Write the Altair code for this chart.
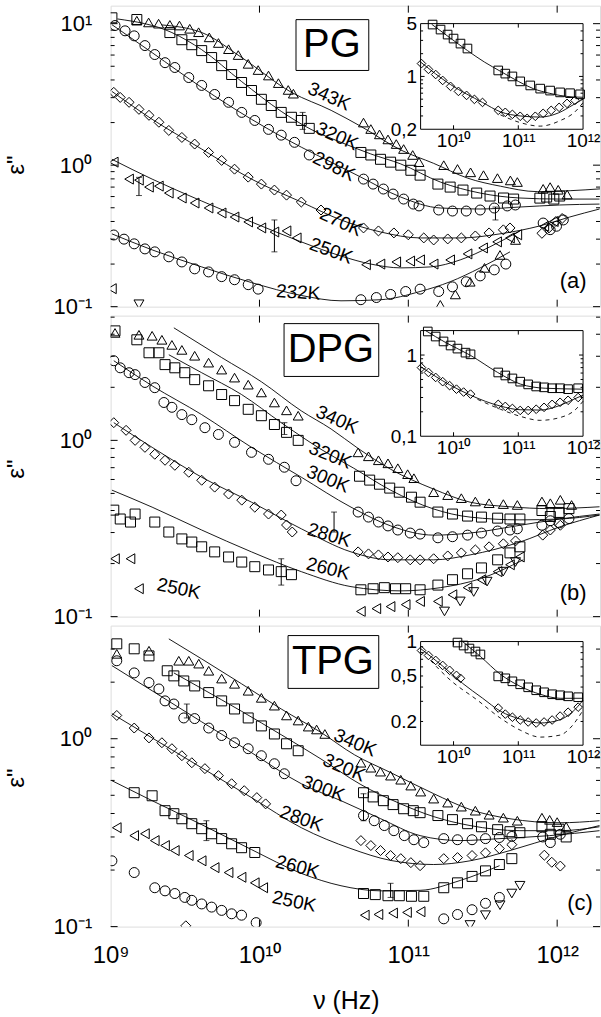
import altair as alt
import pandas as pd

FONT = "Liberation Sans"
W, H = 491, 302
XDOM = [1e9, 1.94e12]
IX_DOM = [3.1e9, 1e12]
IX_RANGE = [311, 474]

# ============ Panel (a) PG  (frequencies in GHz) ============
pg_343_nu = [1.5, 1.8, 2.1, 2.5, 2.9, 3.4, 3.9, 4.6, 5.3, 6.2, 7.2, 8.4, 9.8, 11.5, 13.4, 15.6, 16.9,
             50, 56, 64, 73, 83, 93, 107, 118, 173, 214, 262, 320, 397, 485, 540, 805, 897, 1016, 1167]
pg_343_eps = [10.5, 10.2, 10.0, 9.8, 9.7, 9.2, 8.7, 8.0, 7.3, 6.6, 6.0, 5.2, 4.7, 4.3, 3.8, 3.4, 3.2,
              2.0, 1.8, 1.65, 1.52, 1.41, 1.30, 1.18, 1.05, 1.0, 0.94, 0.89, 0.85, 0.81, 0.78, 0.76,
              0.68, 0.70, 0.67, 0.62]
pg_343_fit_nu = [2.2, 4.1, 7.6, 16.4, 30.3, 48, 89, 148, 250, 416, 735, 1222, 1940]
pg_343_fit_eps = [9.8, 8.65, 5.76, 3.27, 2.44, 1.88, 1.28, 1.03, 0.81, 0.71, 0.65, 0.66, 0.68]

pg_320_nu = [1.02, 1.50, 2.50, 3.01, 3.51, 4.09, 4.77, 5.57, 6.50, 7.58, 8.84, 10.3, 12.0, 14.0, 16.4, 19.1, 21.6,
             48, 56, 65, 76, 89, 104, 120, 158, 191, 233, 288, 354, 436, 510, 765, 850, 950, 1040]
pg_320_eps = [11.0, 10.7, 8.65, 7.7, 7.1, 6.45, 5.76, 5.05, 4.37, 3.84, 3.37, 2.92, 2.64, 2.36, 2.18, 2.07, 1.82,
              1.23, 1.18, 1.10, 1.05, 1.0, 0.92, 0.85, 0.735, 0.70, 0.667, 0.635, 0.605, 0.586, 0.576,
              0.585, 0.595, 0.576, 0.605]
pg_320_fit_nu = [1.11, 2.58, 4.09, 7.58, 14.0, 22.2, 35.3, 56, 89, 164, 304, 562, 1040, 1925]
pg_320_fit_eps = [10.8, 8.65, 6.55, 3.9, 2.40, 1.79, 1.45, 1.20, 1.02, 0.76, 0.635, 0.586, 0.576, 0.576]

pg_298_nu = [1.07, 1.25, 1.44, 1.70, 1.98, 2.32, 2.70, 3.35, 4.09, 5.0, 6.2, 7.6, 9.3, 11.5, 14.0, 17.2, 21.6,
             50, 58, 68, 79, 93, 108, 118, 160, 198, 245, 304, 378, 462, 524, 805, 897, 990, 1100]
pg_298_eps = [9.7, 8.9, 8.2, 7.0, 6.05, 5.3, 4.9, 4.16, 3.66, 3.16, 2.78, 2.36, 2.07, 1.79, 1.63, 1.45, 1.18,
              0.797, 0.735, 0.678, 0.625, 0.576, 0.531, 0.515, 0.482, 0.474, 0.474, 0.482, 0.498, 0.515, 0.523,
              0.39, 0.35, 0.37, 0.41]
pg_298_fit_nu = [1.02, 1.90, 4.09, 8.84, 19.1, 30.3, 48, 89, 164, 304, 562, 1040, 1925]
pg_298_fit_eps = [9.84, 6.24, 3.54, 2.11, 1.34, 1.05, 0.823, 0.595, 0.498, 0.49, 0.506, 0.523, 0.531]

pg_270_nu = [1.05, 1.16, 1.33, 1.55, 1.81, 2.11, 2.46, 3.01, 3.67, 4.55, 5.57, 6.8, 8.4, 10.3, 12.6, 15.2, 19.1, 25.9,
             50, 63, 80, 100, 127, 148, 184, 227, 282, 349, 435, 482, 790, 880, 980, 1080]
pg_270_eps = [3.27, 3.01, 2.78, 2.48, 2.25, 2.01, 1.76, 1.57, 1.41, 1.23, 1.08, 0.937, 0.823, 0.735, 0.667, 0.614,
              0.549, 0.482, 0.36, 0.343, 0.332, 0.322, 0.306, 0.296, 0.301, 0.306, 0.316, 0.332, 0.349, 0.36,
              0.33, 0.36, 0.40, 0.42]
pg_270_fit_nu = [1.02, 1.90, 4.09, 8.84, 19.1, 35.3, 65.3, 120, 223, 413, 765, 1214, 1925]
pg_270_fit_eps = [3.32, 2.11, 1.30, 0.797, 0.549, 0.41, 0.337, 0.306, 0.306, 0.327, 0.372, 0.43, 0.49]

pg_250_nu = [1.05, 1.33, 1.55, 1.81, 2.11, 2.46, 3.01, 3.67, 4.55, 5.57, 6.8, 8.4, 10.3, 12.6, 15.2, 17.8,
             52, 65, 83, 103, 120, 148, 191, 250, 318, 395, 482, 540, 820, 950]
pg_250_eps = [1.05, 0.797, 0.784, 0.70, 0.711, 0.635, 0.586, 0.54, 0.498, 0.459, 0.43, 0.397, 0.36, 0.337, 0.343,
              0.306, 0.198, 0.20, 0.207, 0.21, 0.214, 0.20, 0.214, 0.236, 0.26, 0.287, 0.306, 0.322, 0.37, 0.40]
pg_250_fit_nu = [1.02, 1.90, 4.09, 8.84, 19.1, 35.3, 56, 89, 141, 223, 354, 562]
pg_250_fit_eps = [1.10, 0.797, 0.558, 0.397, 0.287, 0.228, 0.20, 0.188, 0.191, 0.214, 0.265, 0.343]

pg_232_nu = [1.05, 1.23, 1.44, 1.70, 1.98, 2.46, 3.01, 3.67, 4.55, 5.57, 6.8, 8.4, 9.8,
             48, 61, 76, 96, 120, 160, 198, 245, 304, 378, 452]
pg_232_eps = [0.321, 0.30, 0.278, 0.256, 0.244, 0.225, 0.207, 0.185, 0.176, 0.163, 0.155, 0.143, 0.133,
              0.112, 0.116, 0.122, 0.128, 0.133, 0.128, 0.138, 0.150, 0.165, 0.182, 0.20]
pg_232_fit_nu = [1.02, 1.90, 4.09, 8.84, 19.1, 35.3, 65.3, 120, 191, 304, 482]
pg_232_fit_eps = [0.327, 0.252, 0.191, 0.148, 0.12, 0.11, 0.112, 0.128, 0.15, 0.188, 0.244]

pg_low_nu = [164, 207, 260, 325, 413, 525]
pg_low_eps = [0.103, 0.122, 0.150, 0.188, 0.232, 0.296]
pg_left_nu, pg_left_eps = [1.02], [0.134]
pg_down_nu, pg_down_eps = [1.55], [0.104]

pg_err_nu = [1.55, 12.6, 19.5, 385]
pg_err_lo = [0.61, 0.244, 1.79, 0.41]
pg_err_hi = [0.82, 0.41, 2.36, 0.506]

pg_lab_text = ["343K", "320K", "298K", "270K", "250K", "232K"]
pg_lab_nu = [29.4, 33.2, 31.7, 35.3, 30.3, 18.2]
pg_lab_eps = [3.06, 1.60, 0.98, 0.397, 0.248, 0.126]
pg_lab_angle = [24, 24, 26, 25, 20, 4]

pg_in_sq_nu = [4.75, 6.3, 8.1, 10, 12.8, 16.4, 49, 63, 81, 107, 153, 218, 310, 442, 630, 900]
pg_in_sq_eps = [4.86, 4.17, 3.58, 3.17, 2.72, 2.34, 1.20, 1.09, 1.0, 0.86, 0.76, 0.69, 0.65, 0.615, 0.60, 0.58]
pg_in_sq_fit_nu = [4.6, 9, 16.4, 30, 53, 100, 170, 300, 442, 700, 1000]
pg_in_sq_fit_eps = [4.9, 3.2, 2.2, 1.55, 1.17, 0.86, 0.69, 0.6, 0.56, 0.535, 0.53]
pg_in_dia_nu = [3.2, 4.1, 5.3, 6.8, 9.0, 11.9, 15.9, 21, 28, 49, 63, 81, 107, 137, 183, 242, 322, 427, 566, 750]
pg_in_dia_eps = [1.48, 1.24, 1.06, 0.885, 0.738, 0.634, 0.561, 0.497, 0.453, 0.356, 0.335, 0.315, 0.297, 0.279,
                 0.297, 0.325, 0.356, 0.39, 0.44, 0.482]
pg_in_dia_fit_nu = [3.1, 9, 28, 53, 107, 218, 420, 700, 1000]
pg_in_dia_fit_eps = [1.55, 0.78, 0.453, 0.34, 0.30, 0.29, 0.33, 0.42, 0.50]
pg_in_dash_nu = [53, 107, 218, 442, 750, 1000]
pg_in_dash_eps = [0.31, 0.245, 0.22, 0.26, 0.34, 0.45]

# ============ Panel (b) DPG ============
dpg_340_nu = [1.07, 1.55, 1.90, 2.21, 2.58, 3.01, 3.67, 4.55, 5.57, 6.8, 8.4, 10.3, 12.6, 15.2, 18.2,
              46, 54, 63, 73, 85, 99, 109, 148, 184, 227, 282, 349, 435, 540, 790, 900, 1050, 1250]
dpg_340_eps = [4.07, 3.97, 3.92, 3.72, 3.48, 3.26, 3.02, 2.76, 2.52, 2.27, 2.07, 1.87, 1.64, 1.48, 1.38,
               0.855, 0.812, 0.771, 0.741, 0.695, 0.643, 0.61, 0.508, 0.489, 0.47, 0.45, 0.44, 0.435, 0.43,
               0.45, 0.44, 0.46, 0.43]
dpg_340_fit_nu = [2.66, 5.57, 10.3, 19.1, 30.3, 46, 76, 148, 260, 482, 892, 1925]
dpg_340_fit_eps = [4.35, 2.95, 2.15, 1.47, 1.16, 0.90, 0.686, 0.529, 0.446, 0.42, 0.41, 0.42]

dpg_320_nu = [1.07, 1.50, 1.81, 2.11, 2.32, 2.70, 3.15, 3.67, 4.55, 5.57, 6.8, 8.4, 10.3, 12.6, 15.2, 18.2,
              47, 55, 64, 75, 87, 105, 120, 158, 198, 250, 310, 398, 482, 562, 790, 900, 1030, 1200]
dpg_320_eps = [4.18, 3.72, 3.14, 3.14, 2.69, 2.58, 2.42, 2.21, 2.04, 1.82, 1.68, 1.50, 1.38, 1.23, 1.11, 1.0,
               0.626, 0.595, 0.564, 0.536, 0.508, 0.476, 0.446, 0.392, 0.382, 0.372, 0.367, 0.362, 0.358, 0.358,
               0.40, 0.37, 0.39, 0.41]
dpg_320_fit_nu = [2.46, 4.09, 7.58, 14.0, 25.9, 43, 76, 148, 260, 562, 1040, 1925]
dpg_320_fit_eps = [3.06, 2.42, 1.82, 1.26, 0.89, 0.695, 0.522, 0.408, 0.367, 0.354, 0.358, 0.377]

dpg_300_nu = [1.05, 1.16, 1.33, 1.46, 1.70, 1.98, 2.28, 2.58, 3.01, 3.51, 4.30, 5.3, 6.8, 8.84, 11.5, 14.7, 17.6,
              46, 54, 63, 73, 85, 103, 120, 158, 198, 250, 310, 398, 482, 540, 790, 900, 1030, 1200]
dpg_300_eps = [2.83, 2.58, 2.42, 2.36, 2.13, 1.99, 1.64, 1.54, 1.40, 1.31, 1.18, 1.08, 0.974, 0.855, 0.781, 0.704,
               0.59, 0.392, 0.367, 0.344, 0.327, 0.31, 0.298, 0.294, 0.28, 0.284, 0.29, 0.298, 0.306, 0.31,
               0.315, 0.33, 0.35, 0.34, 0.36]
dpg_300_fit_nu = [1.05, 1.90, 4.09, 8.84, 19.1, 41.2, 76.2, 148, 260, 530, 1040, 1925]
dpg_300_fit_eps = [2.83, 2.04, 1.40, 0.913, 0.618, 0.418, 0.327, 0.29, 0.298, 0.327, 0.358, 0.382]

dpg_280_nu = [1.05, 1.27, 1.46, 1.70, 1.98, 2.32, 2.70, 3.35, 4.09, 5.0, 6.2, 7.6, 9.3, 11.5, 14.0, 15.2, 16.6,
              46, 54, 63, 73, 85, 103, 120, 148, 184, 227, 282, 349, 435, 525, 800, 900, 1050]
dpg_280_eps = [1.26, 1.14, 1.0, 0.913, 0.834, 0.771, 0.722, 0.659, 0.594, 0.543, 0.496, 0.458, 0.418, 0.382,
               0.377, 0.331, 0.302, 0.233, 0.227, 0.224, 0.218, 0.216, 0.21, 0.21, 0.213, 0.221, 0.23, 0.239,
               0.249, 0.259, 0.269, 0.29, 0.31, 0.33]
dpg_280_fit_nu = [1.05, 1.90, 4.09, 8.84, 19.1, 41.2, 76.2, 148, 260, 562, 1040, 1925]
dpg_280_fit_eps = [1.26, 0.913, 0.618, 0.446, 0.315, 0.233, 0.21, 0.21, 0.224, 0.265, 0.323, 0.377]

dpg_260_nu = [1.05, 1.16, 1.36, 1.46, 1.98, 2.46, 3.01, 3.51, 4.09, 5.0, 6.2, 7.6, 9.3, 11.5, 14.0, 16.4,
              48, 58, 69, 82, 96, 120, 158, 198, 250, 310, 398, 482, 562]
dpg_260_eps = [0.402, 0.358, 0.344, 0.382, 0.344, 0.302, 0.276, 0.265, 0.249, 0.233, 0.218, 0.204, 0.192, 0.184,
               0.18, 0.173, 0.142, 0.144, 0.146, 0.144, 0.144, 0.142, 0.151, 0.162, 0.175, 0.189, 0.21, 0.23, 0.249]
dpg_260_fit_nu = [1.02, 1.90, 4.09, 8.84, 19.1, 41.2, 89, 164, 304, 592]
dpg_260_fit_eps = [0.522, 0.418, 0.31, 0.233, 0.18, 0.148, 0.14, 0.146, 0.164, 0.21]

dpg_250_nu = [1.07, 1.36, 1.55, 48, 61, 76, 96, 120, 158, 198, 250, 310, 398, 482, 562]
dpg_250_eps = [0.213, 0.213, 0.144, 0.107, 0.111, 0.114, 0.117, 0.122, 0.122, 0.133, 0.146, 0.162, 0.18, 0.197, 0.218]

dpg_low_nu = [175, 223, 275, 338, 434, 525]
dpg_low_eps = [0.107, 0.122, 0.138, 0.158, 0.18, 0.204]

dpg_err_nu = [14.7, 14.0, 31.7]
dpg_err_lo = [1.08, 0.151, 0.302]
dpg_err_hi = [1.26, 0.213, 0.392]

dpg_lab_text = ["340K", "320K", "300K", "280K", "260K", "250K"]
dpg_lab_nu = [33.2, 29.9, 28.9, 29.4, 28.9, 2.87]
dpg_lab_eps = [1.31, 0.823, 0.603, 0.29, 0.187, 0.144]
dpg_lab_angle = [24, 22, 22, 17, 14, 12]

dpg_in_sq_nu = [4.0, 5.3, 7.0, 9.0, 11.5, 15.3, 18.3, 49, 63, 81, 107, 142, 189, 250, 333, 442, 587, 840]
dpg_in_sq_eps = [1.95, 1.69, 1.47, 1.31, 1.20, 1.07, 1.02, 0.61, 0.56, 0.515, 0.47, 0.435, 0.41, 0.40, 0.39,
                 0.39, 0.38, 0.39]
dpg_in_sq_fit_nu = [3.7, 7.5, 18.3, 48, 107, 260, 1000]
dpg_in_sq_fit_eps = [2.0, 1.43, 0.99, 0.61, 0.44, 0.39, 0.38]
dpg_in_dia_nu = [3.2, 4.1, 5.3, 6.8, 8.7, 11.1, 14.3, 18.3, 49, 63, 81, 107, 142, 189, 250, 333, 442, 587, 840]
dpg_in_dia_eps = [0.70, 0.61, 0.53, 0.47, 0.42, 0.38, 0.35, 0.33, 0.247, 0.233, 0.22, 0.208, 0.208, 0.215,
                  0.227, 0.247, 0.262, 0.277, 0.30]
dpg_in_dia_fit_nu = [3.1, 8.7, 18.3, 53, 107, 218, 442, 750, 1000]
dpg_in_dia_fit_eps = [0.72, 0.43, 0.32, 0.235, 0.212, 0.21, 0.24, 0.29, 0.32]
dpg_in_dash_nu = [23.4, 53, 107, 218, 442, 750, 1000]
dpg_in_dash_eps = [0.285, 0.215, 0.176, 0.157, 0.17, 0.21, 0.27]

# ============ Panel (c) TPG ============
tpg_340_nu = [1.10, 1.81, 2.87, 3.35, 3.91, 4.56, 5.57, 6.8, 8.4, 10.3, 12.6, 15.2, 18.2, 21.3, 24.2, 27.5,
              48, 56, 65, 76, 89, 104, 121, 148, 184, 227, 282, 349, 435, 540, 790, 890, 1000, 1150]
tpg_340_eps = [2.83, 2.94, 2.60, 2.60, 2.51, 2.30, 2.09, 1.96, 1.80, 1.65, 1.50, 1.33, 1.25, 1.16, 1.12, 1.06,
               0.745, 0.701, 0.668, 0.636, 0.605, 0.563, 0.523, 0.48, 0.457, 0.435, 0.414, 0.394, 0.38, 0.366,
               0.38, 0.37, 0.36, 0.34]
tpg_340_fit_nu = [2.46, 4.09, 7.58, 14.0, 25.9, 43.6, 76.2, 148, 260, 482, 1040, 1925]
tpg_340_fit_eps = [3.40, 2.66, 1.96, 1.44, 1.08, 0.82, 0.66, 0.51, 0.42, 0.375, 0.357, 0.366]

tpg_320_nu = [1.10, 1.44, 1.81, 2.40, 2.66, 3.1, 3.67, 4.56, 5.57, 6.8, 8.4, 10.3, 12.6, 15.2, 18.2,
              50, 58, 68, 79, 93, 108, 120, 158, 198, 250, 310, 398, 482, 562, 790, 900, 1030, 1150]
tpg_320_eps = [3.20, 3.01, 2.76, 2.30, 2.16, 2.03, 1.91, 1.76, 1.59, 1.44, 1.29, 1.17, 1.06, 0.94, 0.863,
               0.516, 0.49, 0.468, 0.446, 0.424, 0.414, 0.404, 0.39, 0.371, 0.353, 0.34, 0.328, 0.32, 0.316,
               0.34, 0.31, 0.33, 0.30]
tpg_320_fit_nu = [2.66, 4.09, 7.58, 14.0, 25.9, 48, 88.9, 148, 260, 562, 1040, 1925]
tpg_320_fit_eps = [2.24, 1.85, 1.40, 1.05, 0.78, 0.57, 0.45, 0.385, 0.345, 0.324, 0.324, 0.34]

tpg_300_nu = [1.10, 1.44, 1.81, 2.11, 2.32, 2.66, 3.1, 3.67, 4.56, 5.57, 6.8, 8.4, 10.3, 12.6, 14.7,
              50, 59, 69, 80, 94, 109, 127, 173, 214, 268, 330, 409, 496, 800, 900, 1050]
tpg_300_eps = [2.60, 2.24, 1.99, 1.84, 1.59, 1.53, 1.29, 1.28, 1.14, 1.04, 0.952, 0.885, 0.812, 0.736, 0.651,
               0.39, 0.366, 0.345, 0.324, 0.305, 0.29, 0.28, 0.294, 0.29, 0.29, 0.294, 0.298, 0.302,
               0.30, 0.28, 0.31]
tpg_300_fit_nu = [1.02, 1.90, 4.09, 8.84, 19.1, 35.3, 65.3, 120, 223, 413, 892, 1925]
tpg_300_fit_eps = [2.45, 1.80, 1.23, 0.843, 0.576, 0.468, 0.375, 0.305, 0.287, 0.294, 0.305, 0.324]

tpg_280_nu = [1.10, 1.44, 1.81, 2.21, 2.58, 3.01, 3.51, 4.30, 5.3, 6.5, 7.9, 9.6, 11.0,
              48, 56, 65, 76, 89, 104, 120, 173, 214, 268, 330, 409, 496, 820, 920, 1050]
tpg_280_eps = [1.33, 1.14, 1.01, 0.952, 0.885, 0.812, 0.745, 0.693, 0.636, 0.576, 0.529, 0.486, 0.45,
               0.287, 0.27, 0.254, 0.239, 0.23, 0.219, 0.211, 0.23, 0.233, 0.239, 0.247, 0.26, 0.273,
               0.24, 0.22, 0.21]
tpg_280_fit_nu = [1.02, 1.90, 4.09, 8.84, 19.1, 41.2, 76.2, 148, 260, 482, 1040, 1925]
tpg_280_fit_eps = [1.36, 1.01, 0.70, 0.486, 0.336, 0.26, 0.225, 0.214, 0.224, 0.254, 0.305, 0.345]

tpg_260_nu = [1.44, 1.90, 2.32, 2.66, 3.01, 3.51, 4.09, 4.77, 5.57, 6.5, 7.58, 9.3,
              50, 60, 73, 87, 105, 127, 173, 214, 268, 330, 409, 496]
tpg_260_eps = [0.516, 0.497, 0.414, 0.399, 0.375, 0.353, 0.332, 0.312, 0.294, 0.276, 0.263, 0.248,
               0.15, 0.148, 0.146, 0.146, 0.145, 0.145, 0.161, 0.171, 0.185, 0.198, 0.214, 0.23]
tpg_260_fit_nu = [1.02, 1.90, 4.09, 8.84, 19.1, 35.3, 65.3, 120, 223, 410]
tpg_260_fit_eps = [0.598, 0.468, 0.349, 0.257, 0.192, 0.165, 0.155, 0.156, 0.176, 0.211]

tpg_250_nu = [1.10, 1.44, 1.70, 1.98, 2.32, 2.70, 3.35, 4.09, 5.0, 6.2, 7.58, 9.3, 10.6, 51, 63, 79, 98, 121]
tpg_250_eps = [0.336, 0.305, 0.312, 0.287, 0.27, 0.254, 0.239, 0.224, 0.206, 0.194, 0.183, 0.171, 0.161,
               0.115, 0.116, 0.118, 0.119, 0.12]

tpg_low_nu = [1.02, 1.44, 1.98, 2.32, 2.70, 3.15, 3.51, 4.09, 4.77, 5.57, 6.5, 7.58, 9.5, 173, 214, 268, 330, 409]
tpg_low_eps = [0.224, 0.194, 0.161, 0.155, 0.15, 0.143, 0.138, 0.132, 0.127, 0.122, 0.117, 0.115, 0.105,
               0.11, 0.116, 0.123, 0.133, 0.143]
tpg_down_nu = [260, 330, 413, 496, 562]
tpg_down_eps = [0.102, 0.115, 0.13, 0.15, 0.165]
tpg_dia_nu, tpg_dia_eps = [3.2], [0.101]

tpg_err_nu = [3.25, 4.4, 50, 76]
tpg_err_lo = [1.29, 0.287, 0.366, 0.143]
tpg_err_hi = [1.53, 0.366, 0.51, 0.17]

tpg_lab_text = ["340K", "320K", "300K", "280K", "260K", "250K"]
tpg_lab_nu = [43.9, 37.0, 26.8, 19.1, 18.0, 17.1]
tpg_lab_eps = [0.95, 0.701, 0.542, 0.375, 0.208, 0.136]
tpg_lab_angle = [23, 23, 20, 20, 15, 12]

tpg_in_sq_nu = [11.5, 14.3, 17.6, 21.8, 26, 49, 63, 81, 107, 142, 189, 250, 333, 442, 587, 840]
tpg_in_sq_eps = [0.98, 0.923, 0.869, 0.818, 0.771, 0.496, 0.477, 0.449, 0.423, 0.398, 0.375, 0.36, 0.346,
                 0.339, 0.332, 0.326]
tpg_in_sq_fit_nu = [13.8, 26, 53, 107, 218, 442, 1000]
tpg_in_sq_fit_eps = [1.0, 0.741, 0.517, 0.406, 0.346, 0.319, 0.319]
tpg_in_dia_nu = [3.2, 4.1, 5.3, 6.8, 8.7, 11.1, 12.8, 49, 63, 81, 107, 142, 189, 250, 333, 442, 587, 840]
tpg_in_dia_eps = [0.835, 0.756, 0.684, 0.618, 0.56, 0.506, 0.477, 0.262, 0.232, 0.218, 0.206, 0.198, 0.194,
                  0.198, 0.206, 0.223, 0.241, 0.267]
tpg_in_dia_fit_nu = [3.1, 6.8, 13.8, 28, 53, 107, 218, 420, 700, 1000]
tpg_in_dia_fit_eps = [0.869, 0.61, 0.431, 0.32, 0.246, 0.21, 0.194, 0.205, 0.245, 0.307]
tpg_in_dash_nu = [4.4, 9.0, 23.4, 53, 107, 218, 442, 630, 1000]
tpg_in_dash_eps = [0.684, 0.458, 0.307, 0.214, 0.168, 0.146, 0.152, 0.175, 0.251]

# ============ helpers ============
XLAB = "datum.value < 5e9 ? '10⁹' : datum.value < 5e10 ? '10¹⁰' : datum.value < 5e11 ? '10¹¹' : '10¹²'"
YLAB = "datum.value > 5 ? '10¹' : datum.value > 0.5 ? '10⁰' : '10⁻¹'"


def one():
    return pd.DataFrame({"d": [0]})


def pts(series):
    rows = []
    for nu, eps, shp in series:
        rows += [{"nu": n * 1e9, "eps": e, "shape": shp} for n, e in zip(nu, eps)]
    return pd.DataFrame(rows)


def curves(fits):
    rows = []
    for i, (nu, eps) in enumerate(fits):
        rows += [{"nu": n * 1e9, "eps": e, "id": i} for n, e in zip(nu, eps)]
    return pd.DataFrame(rows)


def yrules(vals, Yf, x0, x1):
    return alt.Chart(pd.DataFrame({"v": vals})).mark_rule(color="black", strokeWidth=1).encode(
        y=Yf("v"), x=alt.value(x0), x2=alt.value(x1))


def xrules(vals, Xf, y0, y1):
    return alt.Chart(pd.DataFrame({"v": vals})).mark_rule(color="black", strokeWidth=1).encode(
        x=Xf("v"), y=alt.value(y0), y2=alt.value(y1))


def make_panel(p):
    xs = alt.Scale(type="log", domain=XDOM)
    ys = alt.Scale(type="log", domain=p["ydom"])
    if p["show_x"]:
        xax = alt.Axis(values=[1e9, 1e10, 1e11, 1e12], labelExpr=XLAB, ticks=False, tickSize=0,
                       domain=False, grid=False, labelFont=FONT, labelFontSize=24, labelPadding=29,
                       labelBaseline="middle", labelFlush=False, labelOverlap=False, labelColor="black",
                       title="ν (Hz)", titleFont=FONT, titleFontSize=25, titleFontWeight="normal",
                       titleX=236, titleY=74, titleBaseline="middle", titleAlign="center", titleColor="black")
    else:
        xax = None
    yax = alt.Axis(values=p["ymajor"], labelExpr=YLAB, ticks=False, tickSize=0, domain=False, grid=False,
                   title=None, labelFont=FONT, labelFontSize=22, labelPadding=19, labelOverlap=False,
                   labelColor="black")

    def X(f):
        return alt.X(f, type="quantitative", scale=xs, axis=xax)

    def Y(f):
        return alt.Y(f, type="quantitative", scale=ys, axis=yax)

    L = []
    L.append(alt.Chart(curves(p["fits"])).mark_line(color="black", strokeWidth=0.9, interpolate="monotone",
                                                    clip=True).encode(x=X("nu"), y=Y("eps"), detail="id:N"))
    L.append(alt.Chart(pts(p["series"])).mark_point(filled=False, color="black", size=100, strokeWidth=1,
                                                    opacity=1, clip=True).encode(
        x=X("nu"), y=Y("eps"), shape=alt.Shape("shape:N", scale=None)))
    err = pd.DataFrame({"nu": [v * 1e9 for v in p["err"][0]], "lo": p["err"][1], "hi": p["err"][2]})
    L.append(alt.Chart(err).mark_rule(color="black", strokeWidth=1).encode(x=X("nu"), y=Y("lo"), y2=alt.Y2("hi")))
    for col in ("lo", "hi"):
        L.append(alt.Chart(err).mark_tick(color="black", orient="horizontal", size=6, thickness=1).encode(
            x=X("nu"), y=Y(col)))
    t, n, e, a = p["labels"]
    lab = pd.DataFrame({"nu": [v * 1e9 for v in n], "eps": e, "text": t, "angle": a})
    L.append(alt.Chart(lab).mark_text(font=FONT, fontSize=19, color="black").encode(
        x=X("nu"), y=Y("eps"), text="text:N", angle=alt.Angle("angle:Q", scale=None)))
    # inward ticks of the frame
    L.append(yrules(p["ymajor"], Y, 0, 7))
    L.append(yrules(p["ymajor"], Y, W - 7, W))
    L.append(yrules(p["yminor"], Y, 0, 4))
    L.append(yrules(p["yminor"], Y, W - 4, W))
    L.append(xrules([1e10, 1e11, 1e12], X, H - 7, H))
    L.append(xrules([1e10, 1e11, 1e12], X, 0, 7))
    # sample box
    bx0, bx1, by0, by1, name, tx, ty = p["box"]
    L.append(alt.Chart(one()).mark_rect(fill="white", stroke="black", strokeWidth=1).encode(
        x=alt.value(bx0), x2=alt.value(bx1), y=alt.value(by0), y2=alt.value(by1)))
    L.append(alt.Chart(one()).mark_text(text=name, font=FONT, fontSize=40, color="black").encode(
        x=alt.value(tx), y=alt.value(ty)))
    lt, lx, ly = p["letter"]
    L.append(alt.Chart(one()).mark_text(text=lt, font=FONT, fontSize=22, color="black").encode(
        x=alt.value(lx), y=alt.value(ly)))
    L.append(alt.Chart(one()).mark_text(text='ε"', font=FONT, fontSize=24, angle=270, color="black").encode(
        x=alt.value(-94), y=alt.value(p["ytitle_y"])))

    # ---- inset ----
    itop, ibot = p["in_top"], p["in_bot"]
    ixs = alt.Scale(type="log", domain=IX_DOM, range=IX_RANGE)
    iys = alt.Scale(type="log", domain=p["in_ydom"], range=[ibot, itop])
    ixax = alt.Axis(orient="bottom", offset=ibot - H, values=[1e10, 1e11, 1e12], labelExpr=XLAB, ticks=False,
                    tickSize=0, domain=False, grid=False, title=None, labelFont=FONT, labelFontSize=19,
                    labelPadding=11, labelBaseline="middle", labelFlush=False, labelOverlap=False,
                    labelColor="black")
    iyax = alt.Axis(orient="left", offset=-IX_RANGE[0], values=p["in_yvals"], labelExpr=p["in_ylab"],
                    ticks=False, tickSize=0, domain=False, grid=False, title=None, labelFont=FONT,
                    labelFontSize=19, labelPadding=4, labelOverlap=False, labelColor="black")

    def IX(f):
        return alt.X(f, type="quantitative", scale=ixs, axis=ixax)

    def IY(f):
        return alt.Y(f, type="quantitative", scale=iys, axis=iyax)

    I = []
    I.append(alt.Chart(one()).mark_rect(fill="white", stroke="black", strokeWidth=1).encode(
        x=alt.value(IX_RANGE[0]), x2=alt.value(IX_RANGE[1]), y=alt.value(itop), y2=alt.value(ibot)))
    I.append(alt.Chart(curves(p["in_fits"])).mark_line(color="black", strokeWidth=0.9,
                                                       interpolate="monotone").encode(
        x=IX("nu"), y=IY("eps"), detail="id:N"))
    I.append(alt.Chart(curves([p["in_dash"]])).mark_line(color="black", strokeWidth=0.9, strokeDash=[4, 4],
                                                         interpolate="monotone").encode(x=IX("nu"), y=IY("eps")))
    I.append(alt.Chart(pts(p["in_series"])).mark_point(filled=False, color="black", size=75, strokeWidth=1,
                                                       opacity=1).encode(
        x=IX("nu"), y=IY("eps"), shape=alt.Shape("shape:N", scale=None)))
    if p["in_major"]:
        I.append(yrules(p["in_major"], IY, IX_RANGE[0], IX_RANGE[0] + 4))
        I.append(yrules(p["in_major"], IY, IX_RANGE[1] - 4, IX_RANGE[1]))
    I.append(yrules(p["in_minor"], IY, IX_RANGE[0], IX_RANGE[0] + 2.5))
    I.append(yrules(p["in_minor"], IY, IX_RANGE[1] - 2.5, IX_RANGE[1]))
    I.append(xrules([1e10, 1e11], IX, ibot - 4, ibot))
    I.append(xrules([1e10, 1e11], IX, itop, itop + 4))

    return alt.layer(alt.layer(*L), alt.layer(*I)).resolve_scale(
        x="independent", y="independent").properties(width=W, height=H)


minor_low = [0.2, 0.3, 0.4, 0.5, 0.6, 0.7, 0.8, 0.9]

panel_a = make_panel(dict(
    ydom=[0.1, 13.4], ymajor=[0.1, 1, 10], yminor=minor_low + [2, 3, 4, 5, 6, 7, 8, 9],
    series=[(pg_343_nu, pg_343_eps, "triangle-up"), (pg_320_nu, pg_320_eps, "square"),
            (pg_298_nu, pg_298_eps, "circle"), (pg_270_nu, pg_270_eps, "diamond"),
            (pg_250_nu, pg_250_eps, "triangle-left"), (pg_232_nu, pg_232_eps, "circle"),
            (pg_low_nu, pg_low_eps, "triangle-up"), (pg_left_nu, pg_left_eps, "triangle-left"),
            (pg_down_nu, pg_down_eps, "triangle-down")],
    fits=[(pg_343_fit_nu, pg_343_fit_eps), (pg_320_fit_nu, pg_320_fit_eps), (pg_298_fit_nu, pg_298_fit_eps),
          (pg_270_fit_nu, pg_270_fit_eps), (pg_250_fit_nu, pg_250_fit_eps), (pg_232_fit_nu, pg_232_fit_eps)],
    err=(pg_err_nu, pg_err_lo, pg_err_hi),
    labels=(pg_lab_text, pg_lab_nu, pg_lab_eps, pg_lab_angle),
    box=(186, 259, 14, 65, "PG", 222, 40), letter=("(a)", 464, 276), ytitle_y=160,
    show_x=False,
    in_top=18, in_bot=124, in_ydom=[0.2, 5], in_yvals=[0.2, 1, 5],
    in_ylab="datum.value < 0.5 ? '0,2' : datum.value < 2 ? '1' : '5'",
    in_major=[1], in_minor=[0.3, 0.4, 0.5, 0.6, 0.7, 0.8, 0.9, 2, 3, 4],
    in_series=[(pg_in_sq_nu, pg_in_sq_eps, "square"), (pg_in_dia_nu, pg_in_dia_eps, "diamond")],
    in_fits=[(pg_in_sq_fit_nu, pg_in_sq_fit_eps), (pg_in_dia_fit_nu, pg_in_dia_fit_eps)],
    in_dash=(pg_in_dash_nu, pg_in_dash_eps),
))

panel_b = make_panel(dict(
    ydom=[0.1, 5.1], ymajor=[0.1, 1], yminor=minor_low + [2, 3, 4, 5],
    series=[(dpg_340_nu, dpg_340_eps, "triangle-up"), (dpg_320_nu, dpg_320_eps, "square"),
            (dpg_300_nu, dpg_300_eps, "circle"), (dpg_280_nu, dpg_280_eps, "diamond"),
            (dpg_260_nu, dpg_260_eps, "square"), (dpg_250_nu, dpg_250_eps, "triangle-left"),
            (dpg_low_nu, dpg_low_eps, "triangle-down")],
    fits=[(dpg_340_fit_nu, dpg_340_fit_eps), (dpg_320_fit_nu, dpg_320_fit_eps),
          (dpg_300_fit_nu, dpg_300_fit_eps), (dpg_280_fit_nu, dpg_280_fit_eps),
          (dpg_260_fit_nu, dpg_260_fit_eps)],
    err=(dpg_err_nu, dpg_err_lo, dpg_err_hi),
    labels=(dpg_lab_text, dpg_lab_nu, dpg_lab_eps, dpg_lab_angle),
    box=(174, 269, 8, 61, "DPG", 221, 35), letter=("(b)", 464, 278), ytitle_y=154,
    show_x=False,
    in_top=15, in_bot=121, in_ydom=[0.1, 2], in_yvals=[0.1, 1],
    in_ylab="datum.value < 0.5 ? '0,1' : '1'",
    in_major=[1], in_minor=minor_low,
    in_series=[(dpg_in_sq_nu, dpg_in_sq_eps, "square"), (dpg_in_dia_nu, dpg_in_dia_eps, "diamond")],
    in_fits=[(dpg_in_sq_fit_nu, dpg_in_sq_fit_eps), (dpg_in_dia_fit_nu, dpg_in_dia_fit_eps)],
    in_dash=(dpg_in_dash_nu, dpg_in_dash_eps),
))

panel_c = make_panel(dict(
    ydom=[0.1, 4.0], ymajor=[0.1, 1], yminor=minor_low + [2, 3],
    series=[(tpg_340_nu, tpg_340_eps, "triangle-up"), (tpg_320_nu, tpg_320_eps, "square"),
            (tpg_300_nu, tpg_300_eps, "circle"), (tpg_280_nu, tpg_280_eps, "diamond"),
            (tpg_260_nu, tpg_260_eps, "square"), (tpg_250_nu, tpg_250_eps, "triangle-left"),
            (tpg_low_nu, tpg_low_eps, "circle"), (tpg_down_nu, tpg_down_eps, "triangle-down"),
            (tpg_dia_nu, tpg_dia_eps, "diamond")],
    fits=[(tpg_340_fit_nu, tpg_340_fit_eps), (tpg_320_fit_nu, tpg_320_fit_eps),
          (tpg_300_fit_nu, tpg_300_fit_eps), (tpg_280_fit_nu, tpg_280_fit_eps),
          (tpg_260_fit_nu, tpg_260_fit_eps)],
    err=(tpg_err_nu, tpg_err_lo, tpg_err_hi),
    labels=(tpg_lab_text, tpg_lab_nu, tpg_lab_eps, tpg_lab_angle),
    box=(178, 269, 10, 63, "TPG", 223, 37), letter=("(c)", 471, 278), ytitle_y=153,
    show_x=True,
    in_top=16, in_bot=120, in_ydom=[0.124, 1.0], in_yvals=[0.2, 0.5, 1],
    in_ylab="datum.value < 0.3 ? '0.2' : datum.value < 0.8 ? '0,5' : '1'",
    in_major=[], in_minor=[0.2, 0.3, 0.4, 0.5, 0.6, 0.7, 0.8, 0.9],
    in_series=[(tpg_in_sq_nu, tpg_in_sq_eps, "square"), (tpg_in_dia_nu, tpg_in_dia_eps, "diamond")],
    in_fits=[(tpg_in_sq_fit_nu, tpg_in_sq_fit_eps), (tpg_in_dia_fit_nu, tpg_in_dia_fit_eps)],
    in_dash=(tpg_in_dash_nu, tpg_in_dash_eps),
))

chart = alt.vconcat(panel_a, panel_b, panel_c, spacing=9, bounds="flush").resolve_scale(
    x="independent", y="independent").properties(
    padding={"left": 4, "top": 3, "right": 0, "bottom": 0}
).configure_view(stroke="black", strokeWidth=1).configure(font=FONT)

chart.save("out.html", embed_options={"renderer": "svg", "actions": False})
